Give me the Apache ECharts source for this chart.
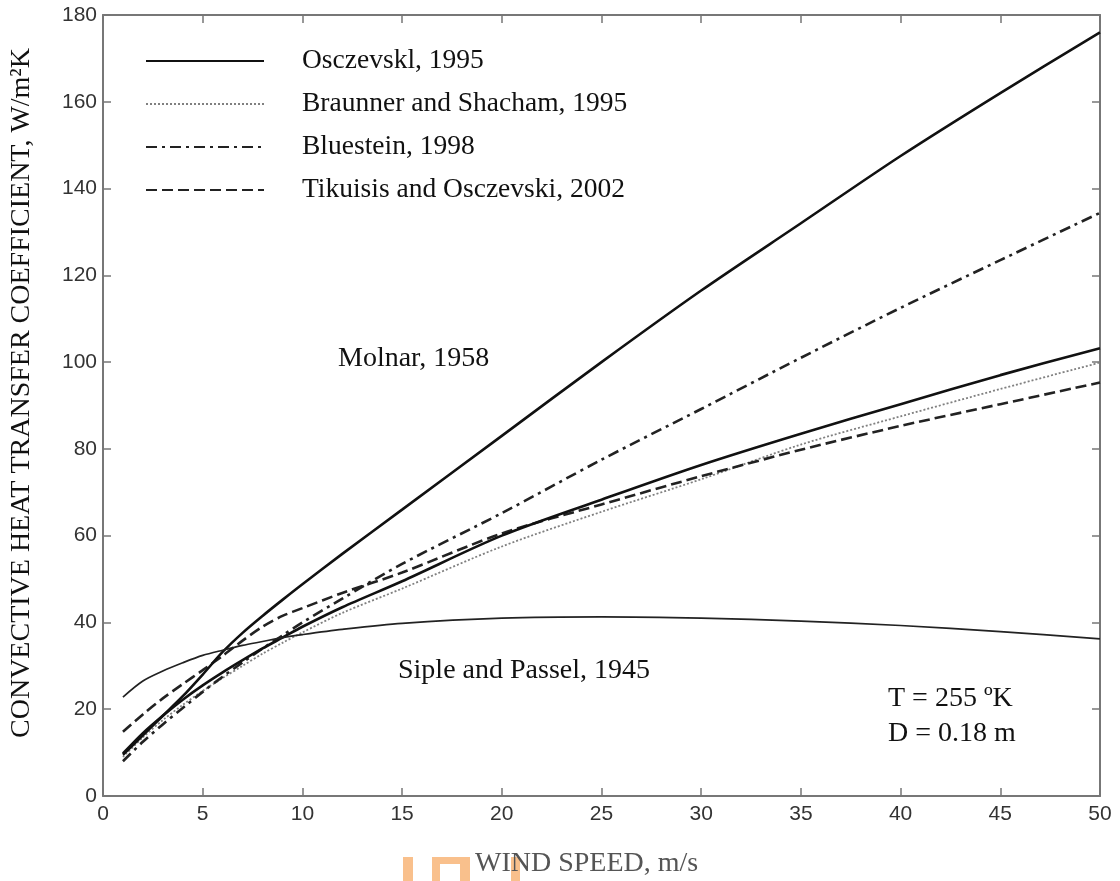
<!DOCTYPE html>
<html><head><meta charset="utf-8">
<script src="https://cdn.jsdelivr.net/npm/echarts@6/dist/echarts.min.js"></script>
<style>html,body{margin:0;padding:0;background:#fff}#c{width:1120px;height:881px}</style>
</head><body><div id="c"></div>
<script>
// wind speed, m/s
const windSpeed = [1,2,3,4,5,6,7,8,9,10,12,15,20,25,30,35,40,45,50];
const osczevski1995 = [9.5,14,18.5,23,28,33.2,37.6,41.5,45.2,48.8,55.8,66,83,100,116.5,132,147.5,162,176];
const braunner1995  = [9,13.5,17.5,21,24.2,27.2,30,32.8,35.3,37.7,42.2,47.8,57.5,65.5,73,81,87.5,93.8,99.9];
const bluestein1998 = [8,12.5,16.5,20.3,24,27.5,30.8,34,37,40,45.5,53.5,65.2,77.5,89.2,101,112.5,123.5,134.4];
const tikuisis2002  = [14.8,18.8,22.5,25.8,29,32.3,35.8,39,41.5,43.3,46.8,51.5,60.5,67.2,73.7,79.8,85.3,90.3,95.3];
const molnar1958    = [9.8,14.5,18.5,22.2,25.5,28.5,31.3,34,36.5,39,43.5,49.5,60,68.3,76.3,83.5,90.3,97,103.2];
const siple1945     = [22.8,26.5,28.8,30.7,32.4,33.6,34.7,35.6,36.5,37.2,38.4,39.8,41,41.3,41,40.3,39.3,37.9,36.2];
const xTicks = {min:0, max:50, interval:5};
const yTicks = {min:0, max:180, interval:20};

const pairs = ys => windSpeed.map((x,i)=>[x, ys[i]]);
const serif = '"Liberation Serif","DejaVu Serif",serif';
const sans = '"Liberation Sans",Arial,sans-serif';
const axisCol = '#777';
const orange = '#f9c08c';

const chart = echarts.init(document.getElementById('c'), null, {renderer:'canvas'});
function mkSeries(name, data, color, width, type, z){
  return {name, type:'line', data:pairs(data), smooth:0.3, showSymbol:false, symbol:'none',
    lineStyle:{color, width, type}, itemStyle:{color}, z:z||2, animation:false};
}
function rect(x,y,w,h){ return {type:'rect', shape:{x,y,width:w,height:h}, style:{fill:orange}, z:0}; }
chart.setOption({
  animation:false,
  backgroundColor:'#fff',
  grid:{left:103, right:20, top:15, bottom:85, containLabel:false},
  legend:{
    orient:'vertical', left:140, top:42, itemWidth:118, itemHeight:14, itemGap:15,
    data:['Osczevskl, 1995','Braunner and Shacham, 1995','Bluestein, 1998','Tikuisis and Osczevski, 2002'],
    itemStyle:{opacity:0},
    textStyle:{fontFamily:serif, fontSize:27.5, color:'#111', padding:[0,0,0,33]},
    selectedMode:false
  },
  xAxis:[
    {type:'value', min:xTicks.min, max:xTicks.max, interval:xTicks.interval,
     axisLine:{show:true, onZero:false, lineStyle:{color:axisCol, width:2}},
     axisTick:{show:true, inside:true, length:8, lineStyle:{color:axisCol, width:1.5}},
     axisLabel:{color:'#333', fontFamily:sans, fontSize:21, margin:8},
     splitLine:{show:false}},
    {type:'value', position:'top', min:xTicks.min, max:xTicks.max, interval:xTicks.interval,
     axisLine:{show:true, onZero:false, lineStyle:{color:axisCol, width:2}},
     axisTick:{show:true, inside:true, length:8, lineStyle:{color:axisCol, width:1.5}},
     axisLabel:{show:false}, splitLine:{show:false}}
  ],
  yAxis:[
    {type:'value', min:yTicks.min, max:yTicks.max, interval:yTicks.interval,
     axisLine:{show:true, onZero:false, lineStyle:{color:axisCol, width:2}},
     axisTick:{show:true, inside:true, length:8, lineStyle:{color:axisCol, width:1.5}},
     axisLabel:{color:'#333', fontFamily:sans, fontSize:21, margin:6},
     splitLine:{show:false}},
    {type:'value', position:'right', min:yTicks.min, max:yTicks.max, interval:yTicks.interval,
     axisLine:{show:true, onZero:false, lineStyle:{color:axisCol, width:2}},
     axisTick:{show:true, inside:true, length:8, lineStyle:{color:axisCol, width:1.5}},
     axisLabel:{show:false}, splitLine:{show:false}}
  ],
  series:[
    mkSeries('Osczevskl, 1995', osczevski1995, '#111', 2.6, 'solid', 5),
    mkSeries('Braunner and Shacham, 1995', braunner1995, '#808080', 1.8, [2,2], 3),
    mkSeries('Bluestein, 1998', bluestein1998, '#222', 2.6, [11,5,3,5], 4),
    mkSeries('Tikuisis and Osczevski, 2002', tikuisis2002, '#222', 2.6, [11,5], 4),
    mkSeries('Molnar, 1958', molnar1958, '#111', 2.6, 'solid', 5),
    mkSeries('Siple and Passel, 1945', siple1945, '#222', 1.7, 'solid', 5)
  ],
  graphic:[
    rect(403,857,10,24), rect(432,857,38,7), rect(432,857,8,24), rect(460,857,10,24), rect(511,857,9,24),
    {type:'text', left:338, top:345, style:{text:'Molnar, 1958', font:'28px '+serif, fill:'#111'}},
    {type:'text', left:398, top:657, style:{text:'Siple and Passel, 1945', font:'28px '+serif, fill:'#111'}},
    {type:'text', left:888, top:685, style:{text:'T = 255 ºK', font:'28px '+serif, fill:'#111'}},
    {type:'text', left:888, top:720, style:{text:'D = 0.18 m', font:'28px '+serif, fill:'#111'}},
    {type:'text', left:475, top:850, z:10, style:{text:'WIND SPEED, m/s', font:'28px '+serif, fill:'#555'}},
    {type:'text', x:22, y:393, rotation:Math.PI/2, style:{text:'CONVECTIVE HEAT TRANSFER COEFFICIENT, W/m²K', font:'28px '+serif, fill:'#111', align:'center', verticalAlign:'middle'}}
  ]
});
</script></body></html>
